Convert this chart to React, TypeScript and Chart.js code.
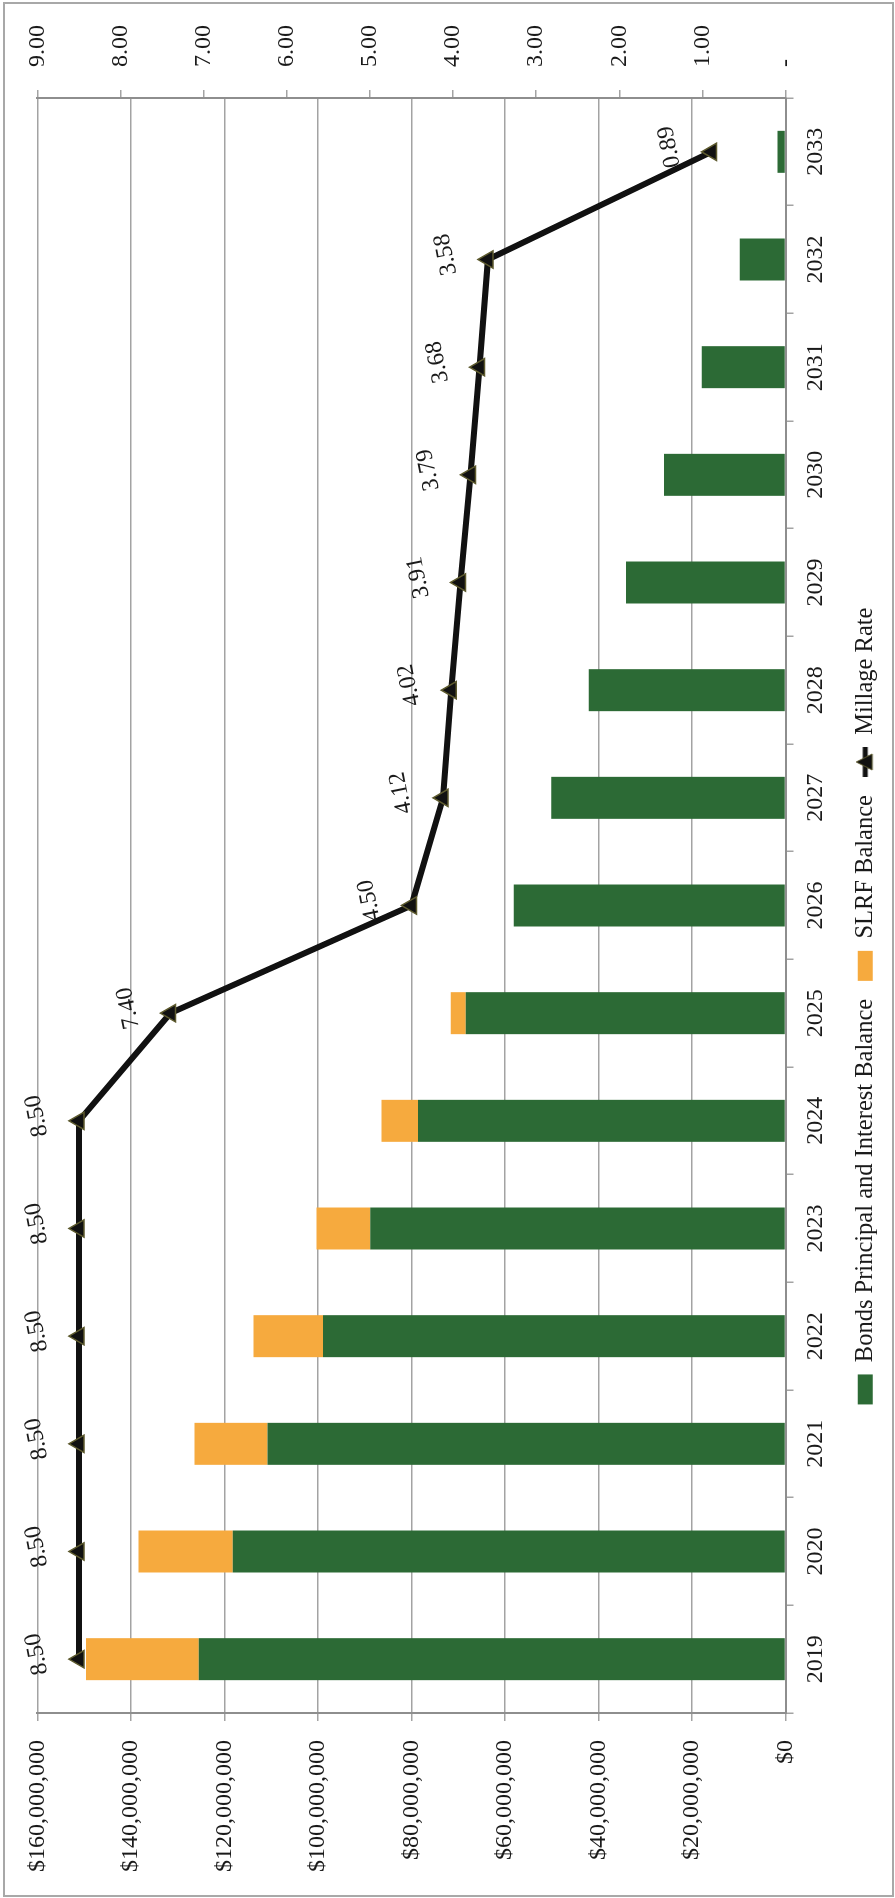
import React, { useEffect, useRef } from "react";
import { Chart, registerables } from "chart.js";

Chart.register(...registerables);

// ---- data ----
const years = ["2019", "2020", "2021", "2022", "2023", "2024", "2025", "2026", "2027", "2028", "2029", "2030", "2031", "2032", "2033"];
const bondsBalance = [125500000, 118200000, 110800000, 98900000, 88800000, 78600000, 68400000, 58100000, 50100000, 42100000, 34100000, 26000000, 17900000, 9800000, 1700000];
const slrfBalance = [24100000, 20200000, 15600000, 14900000, 11500000, 7800000, 3200000, 0, 0, 0, 0, 0, 0, 0, 0];
const millageRate = [8.5, 8.5, 8.5, 8.5, 8.5, 8.5, 7.4, 4.5, 4.12, 4.02, 3.91, 3.79, 3.68, 3.58, 0.89];
const dollarTicks = { min: 0, max: 160000000, step: 20000000 };
const millTicks = { min: 0, max: 9, step: 1 };

const W = 1898;
const H = 895;
const FONT = "'Liberation Serif', 'Times New Roman', serif";
const TEXT = "#1a1a1a";
const GREEN = "#2c6a35";
const ORANGE = "#f6aa3e";
const GRID = "#a3a3a3";

function makeLineKey(): HTMLCanvasElement {
  const c = document.createElement("canvas");
  c.width = 30;
  c.height = 24;
  const g = c.getContext("2d")!;
  g.strokeStyle = "#111";
  g.lineWidth = 5;
  g.beginPath();
  g.moveTo(0, 12);
  g.lineTo(30, 12);
  g.stroke();
  g.fillStyle = "#111";
  g.strokeStyle = "#5d5a2e";
  g.lineWidth = 1;
  g.beginPath();
  g.moveTo(15, 3);
  g.lineTo(23, 19);
  g.lineTo(7, 19);
  g.closePath();
  g.fill();
  g.stroke();
  return c;
}

const framePlugin = {
  id: "frame",
  beforeDraw(chart: any) {
    const ctx = chart.ctx;
    ctx.save();
    ctx.fillStyle = "#ffffff";
    ctx.fillRect(0, 0, W, H);
    ctx.strokeStyle = "#a8a8a8";
    ctx.lineWidth = 2;
    ctx.strokeRect(2, 4, W - 5, H - 6);
    ctx.restore();
  },
};

// keep the legend centred where the reference has it (off the canvas centre)
const legendShiftPlugin = {
  id: "legendShift",
  afterLayout(chart: any) {
    const lg = chart.legend;
    if (lg) {
      lg.left = 0;
      lg.right = W - 114;
      lg.width = W - 114;
    }
  },
};

const labelPlugin = {
  id: "millageLabels",
  afterDatasetsDraw(chart: any) {
    const meta = chart.getDatasetMeta(2);
    const ctx = chart.ctx;
    ctx.save();
    ctx.font = `24px ${FONT}`;
    ctx.fillStyle = TEXT;
    ctx.textAlign = "center";
    ctx.textBaseline = "middle";
    meta.data.forEach((pt: any, i: number) => {
      ctx.save();
      ctx.translate(pt.x + 5, pt.y - 42);
      ctx.rotate(-0.2);
      ctx.fillText(millageRate[i].toFixed(2), 0, 0);
      ctx.restore();
    });
    ctx.restore();
  },
};

export default function App() {
  const ref = useRef<HTMLCanvasElement>(null);

  useEffect(() => {
    const canvas = ref.current!;
    const lineKey = makeLineKey();
    const chart = new Chart(canvas, {
      type: "bar",
      data: {
        labels: years,
        datasets: [
          {
            type: "bar",
            label: "Bonds Principal and Interest Balance",
            data: bondsBalance,
            backgroundColor: GREEN,
            borderWidth: 0,
            yAxisID: "y",
            order: 1,
            pointStyle: "rect",
            barPercentage: 0.39,
            categoryPercentage: 1,
          } as any,
          {
            type: "bar",
            label: "SLRF Balance",
            data: slrfBalance,
            backgroundColor: ORANGE,
            borderWidth: 0,
            yAxisID: "y",
            order: 2,
            pointStyle: "rect",
            barPercentage: 0.39,
            categoryPercentage: 1,
          } as any,
          {
            type: "line",
            label: "Millage Rate",
            data: millageRate,
            yAxisID: "y1",
            borderColor: "#111111",
            backgroundColor: "#111111",
            borderWidth: 6,
            tension: 0,
            pointStyle: "triangle",
            pointRadius: 10,
            pointBackgroundColor: "#111111",
            pointBorderColor: "#5d5a2e",
            pointBorderWidth: 1.5,
            order: 0,
          } as any,
        ],
      },
      options: {
        responsive: false,
        animation: false,
        devicePixelRatio: 1,
        layout: { padding: { left: 0, right: 0, top: 32, bottom: 7.5 } },
        font: { family: FONT, size: 24 },
        color: TEXT,
        plugins: {
          tooltip: { enabled: false },
          legend: {
            position: "bottom",
            labels: {
              usePointStyle: true,
              pointStyleWidth: 30,
              boxHeight: 15,
              padding: 18,
              color: TEXT,
              font: { family: FONT, size: 24.5 },
              sort: (a: any, b: any) => a.datasetIndex - b.datasetIndex,
              generateLabels: (ch: any) => {
                const items = Chart.defaults.plugins.legend.labels.generateLabels(ch);
                items.forEach((it: any) => {
                  if (it.datasetIndex === 2) {
                    it.pointStyle = lineKey;
                  } else {
                    it.pointStyle = "rect";
                    it.lineWidth = 0;
                  }
                });
                return items;
              },
            },
          },
        },
        scales: {
          x: {
            stacked: true,
            offset: true,
            grid: { display: true, drawOnChartArea: false, tickLength: 8, color: GRID, lineWidth: 1.5, offset: true },
            border: { display: true, color: "#8e8e8e", width: 2 },
            ticks: { color: TEXT, padding: 8, font: { family: FONT, size: 24 }, maxRotation: 0, autoSkip: false },
            afterFit: (s: any) => {
              s.height = 49.5;
            },
          },
          y: {
            stacked: true,
            position: "left",
            min: dollarTicks.min,
            max: dollarTicks.max,
            grid: { color: GRID, lineWidth: 1.5, tickLength: 8 },
            border: { display: true, color: "#8e8e8e", width: 2 },
            ticks: {
              stepSize: dollarTicks.step,
              color: TEXT,
              padding: 19,
              font: { family: FONT, size: 24 },
              callback: (v: any) => "$" + Number(v).toLocaleString("en-US"),
            },
            afterFit: (s: any) => {
              s.width = 185;
            },
          },
          y1: {
            position: "right",
            min: millTicks.min,
            max: millTicks.max,
            grid: { drawOnChartArea: false, tickLength: 8, color: GRID, lineWidth: 1.5 },
            border: { display: true, color: "#8e8e8e", width: 2 },
            ticks: {
              stepSize: millTicks.step,
              color: TEXT,
              padding: 23,
              font: { family: FONT, size: 24 },
              callback: (v: any) => (Number(v) === 0 ? "-" : Number(v).toFixed(2)),
            },
            afterFit: (s: any) => {
              s.width = 98;
            },
          },
        },
      } as any,
      plugins: [framePlugin, legendShiftPlugin, labelPlugin],
    });
    return () => chart.destroy();
  }, []);

  return (
    <div
      style={{
        position: "absolute",
        left: 0,
        top: 0,
        width: 895,
        height: 1898,
        overflow: "hidden",
        background: "#ffffff",
      }}
    >
      <div
        style={{
          position: "absolute",
          left: 0,
          top: 0,
          width: W,
          height: H,
          transformOrigin: "0 0",
          transform: `rotate(-90deg) translateX(-${W}px)`,
        }}
      >
        <canvas ref={ref} width={W} height={H} style={{ display: "block", width: W, height: H }} />
      </div>
    </div>
  );
}
